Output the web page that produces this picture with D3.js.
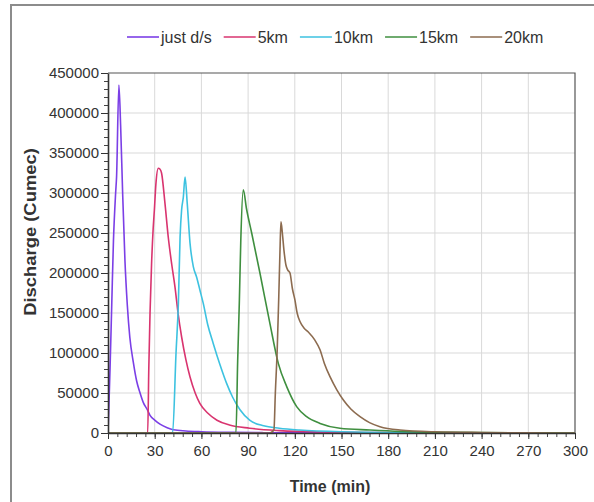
<!DOCTYPE html>
<html>
<head>
<meta charset="utf-8">
<script src="https://cdn.jsdelivr.net/npm/d3@7"></script>
<style>
  body { margin: 0; background: #fff; }
  svg text { font-family: Arial, "Liberation Sans", sans-serif; fill: #333; }
</style>
</head>
<body>
<svg></svg>
<script>
// series names and legend order
var seriesNames = ["just d/s", "5km", "10km", "15km", "20km"];

// just d/s
var timeJust = [0, 0.6, 1.3, 2.4, 3.5, 4.9, 5.5, 7, 8.1, 9.4, 10.9, 12.4, 14, 16.3, 18.4, 20.6, 22.7, 25, 27, 30, 33.4, 38, 42, 50, 60, 80, 100, 130, 170, 300];
var flowJust = [0, 35000, 80000, 160000, 240000, 300000, 320000, 435000, 385000, 300000, 215000, 160000, 120000, 88000, 65000, 50000, 38000, 30000, 22000, 16000, 11000, 6500, 4000, 2500, 1600, 800, 400, 150, 50, 0];

// 5km
var time5 = [0, 25.5, 26.2, 27, 28, 29, 29.8, 30.8, 32.3, 33.3, 34.4, 36.6, 38.7, 41, 43, 45, 47.3, 50, 52.7, 56, 59, 64, 70, 78, 91, 110, 140, 180, 230, 300];
var flow5 = [0, 0, 80000, 150000, 212000, 255000, 279000, 312000, 331000, 330000, 325000, 287000, 245000, 210000, 183000, 150000, 120000, 92000, 70000, 50000, 37000, 25000, 16000, 10000, 6000, 3000, 1200, 500, 150, 0];

// 10km
var time10 = [0, 41.5, 43.7, 45.2, 46.3, 47.3, 48.4, 49.5, 50.9, 52.7, 54.8, 56.9, 59, 61.2, 64, 67.6, 72, 76.2, 80, 84.8, 91, 100, 110, 123, 150, 190, 240, 300];
var flow10 = [0, 0, 100000, 162000, 245000, 279000, 295000, 320000, 287000, 237000, 208000, 195000, 179000, 162000, 136000, 112000, 85000, 62000, 45000, 29000, 16000, 9000, 6000, 3700, 1500, 500, 150, 0];

// 15km
var time15 = [0, 82.2, 83.3, 84.4, 85.3, 86.9, 89, 92.3, 97.6, 104, 109.4, 114.8, 121.2, 127.6, 136.2, 149, 168.3, 187.6, 220, 260, 300];
var flow15 = [0, 0, 90000, 166000, 240000, 304000, 280000, 250000, 200000, 137000, 87000, 58000, 33000, 20400, 12000, 5900, 3750, 2000, 800, 300, 0];

// 20km
var time20 = [0, 104, 106.6, 107.5, 108.7, 109.7, 110.5, 111.1, 112, 113, 114.3, 115.4, 116.9, 118.5, 120.1, 121.5, 123.4, 126, 128.5, 132.9, 136.2, 139, 142.6, 147, 151.2, 156, 161.9, 168, 174.7, 187.6, 210, 240, 270, 300];
var flow20 = [0, 0, 4000, 50000, 104000, 170000, 229000, 264000, 250000, 229000, 210000, 204000, 200000, 180000, 166000, 150000, 139000, 131000, 126600, 116000, 104000, 87000, 70400, 54000, 41250, 30000, 20400, 13000, 7900, 3750, 1500, 600, 200, 0];

// axis tick labels
var xTickValues = [0, 30, 60, 90, 120, 150, 180, 210, 240, 270, 300];
var yTickValues = [0, 50000, 100000, 150000, 200000, 250000, 300000, 350000, 400000, 450000];

var colors = ["#7b3fe6", "#d9346f", "#3dc2e0", "#3f8f3f", "#8c6b4f"];

var series = [
  {name: seriesNames[0], t: timeJust, q: flowJust},
  {name: seriesNames[1], t: time5, q: flow5},
  {name: seriesNames[2], t: time10, q: flow10},
  {name: seriesNames[3], t: time15, q: flow15},
  {name: seriesNames[4], t: time20, q: flow20}
];

var screen = {width: 594, height: 502};

var margins = {top: 73, bottom: 69, left: 108, right: 19};

var width = screen.width - margins.left - margins.right;
var height = screen.height - margins.top - margins.bottom;

var svg = d3.select("svg")
            .attr("width", screen.width)
            .attr("height", screen.height);

// outer frame (left and top edges only are visible)
svg.append("path")
   .attr("d", "M11,502 L11,5 L594,5")
   .attr("fill", "none")
   .attr("stroke", "#8c8c8c")
   .attr("stroke-width", 2);

var xScale = d3.scaleLinear()
               .domain([0, 300])
               .range([0, width]);

var yScale = d3.scaleLinear()
               .domain([0, 450000])
               .range([height, 0]);

var plot = svg.append("g")
              .attr("transform", "translate(" + margins.left + "," + margins.top + ")");

// grid
plot.append("g")
    .selectAll("line")
    .data(xTickValues.slice(1, -1))
    .enter()
    .append("line")
    .attr("x1", function(d) { return xScale(d); })
    .attr("x2", function(d) { return xScale(d); })
    .attr("y1", 0)
    .attr("y2", height)
    .attr("stroke", "#d9d9d9");

plot.append("g")
    .selectAll("line")
    .data(yTickValues.slice(1, -1))
    .enter()
    .append("line")
    .attr("x1", 0)
    .attr("x2", width)
    .attr("y1", function(d) { return yScale(d); })
    .attr("y2", function(d) { return yScale(d); })
    .attr("stroke", "#d9d9d9");

// top and right frame
plot.append("path")
    .attr("d", "M0,0 L" + width + ",0 L" + width + "," + height)
    .attr("fill", "none")
    .attr("stroke", "#555")
    .attr("stroke-width", 1.2);

plot.append("clipPath")
    .attr("id", "clip")
    .append("rect")
    .attr("x", 0)
    .attr("y", -2)
    .attr("width", width)
    .attr("height", height + 2);

var line = d3.line()
             .x(function(d) { return xScale(d[0]); })
             .y(function(d) { return yScale(d[1]); })
             .curve(d3.curveMonotoneX);

plot.append("g")
    .attr("clip-path", "url(#clip)")
    .selectAll("path")
    .data(series)
    .enter()
    .append("path")
    .attr("d", function(s) { return line(d3.zip(s.t, s.q)); })
    .attr("fill", "none")
    .attr("stroke", function(s, i) { return colors[i]; })
    .attr("stroke-width", 1.6);

// minor ticks
var xMinor = d3.axisBottom(xScale)
               .tickValues(d3.range(0, 301, 6))
               .tickSize(4)
               .tickFormat("");

var yMinor = d3.axisLeft(yScale)
               .tickValues(d3.range(0, 450001, 10000))
               .tickSize(4)
               .tickFormat("");

plot.append("g")
    .attr("transform", "translate(0," + height + ")")
    .call(xMinor)
    .call(function(g) { g.select(".domain").remove(); })
    .selectAll("line").attr("stroke", "#444");

plot.append("g")
    .call(yMinor)
    .call(function(g) { g.select(".domain").remove(); })
    .selectAll("line").attr("stroke", "#444");

// major axes
var xAxis = d3.axisBottom(xScale)
              .tickValues(xTickValues)
              .tickSize(6)
              .tickSizeOuter(0)
              .tickPadding(6);

var yAxis = d3.axisLeft(yScale)
              .tickValues(yTickValues)
              .tickSize(7)
              .tickSizeOuter(0)
              .tickPadding(2)
              .tickFormat(d3.format("d"));

var gx = plot.append("g")
             .attr("transform", "translate(0," + height + ")")
             .call(xAxis);

var gy = plot.append("g")
             .call(yAxis);

[gx, gy].forEach(function(g)
{
  g.select(".domain").attr("stroke", "#333").attr("stroke-width", 1.6);
  g.selectAll(".tick line").attr("stroke", "#333");
  g.selectAll(".tick text")
   .style("font-size", "15px")
   .style("fill", "#333");
});

// axis titles
svg.append("text")
   .attr("x", 330)
   .attr("y", 492)
   .attr("text-anchor", "middle")
   .style("font-size", "16px")
   .style("font-weight", "bold")
   .text("Time (min)");

svg.append("text")
   .attr("transform", "translate(36,232) rotate(-90) scale(1.15,1)")
   .attr("text-anchor", "middle")
   .style("font-size", "16px")
   .style("font-weight", "bold")
   .text("Discharge (Cumec)");

// legend
var legend = svg.append("g")
                .attr("transform", "translate(127,37)");

var xPos = 0;
series.forEach(function(s, i)
{
  var item = legend.append("g")
                   .attr("transform", "translate(" + xPos + ",0)");
  item.append("line")
      .attr("x1", 0)
      .attr("x2", 32)
      .attr("y1", 0)
      .attr("y2", 0)
      .attr("stroke", colors[i])
      .attr("stroke-width", 1.6);
  var label = item.append("text")
                  .attr("x", 34)
                  .attr("y", 6)
                  .style("font-size", "16px")
                  .text(s.name);
  xPos = xPos + 34 + label.node().getComputedTextLength() + 12;
});
</script>
</body>
</html>
